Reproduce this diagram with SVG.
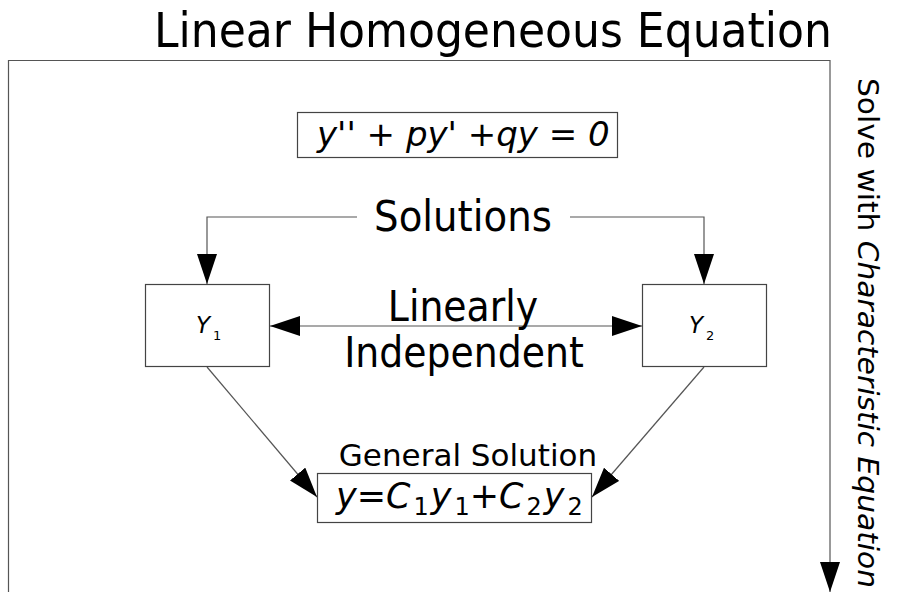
<svg xmlns="http://www.w3.org/2000/svg" width="906" height="592" viewBox="0 0 906 592">
<defs>
<marker id="ah" viewBox="0 0 30 20" refX="30" refY="10" markerWidth="30" markerHeight="20" markerUnits="userSpaceOnUse" orient="auto-start-reverse">
<path d="M0,0 L30,10 L0,20 Z" fill="#000"/>
</marker>
<style>
.t{font-family:"DejaVu Sans","Liberation Sans",sans-serif;fill:#000}
.c{font-family:"DejaVu Sans Condensed","DejaVu Sans",sans-serif;font-stretch:condensed;fill:#000}
.i{font-style:italic}
.box{fill:#fff;stroke:#444;stroke-width:1.2}
.ln{fill:none;stroke:#555;stroke-width:1.2}
</style>
</defs>
<rect width="906" height="592" fill="#fff"/>
<text class="c" x="154" y="47" font-size="48" textLength="678" lengthAdjust="spacingAndGlyphs">Linear Homogeneous Equation</text>
<g id="frame">
<path class="ln" d="M8.5,592 V60.5 H830"/>
</g>
<g id="connectors">
<line class="ln" x1="830" y1="60" x2="830" y2="592" marker-end="url(#ah)"/>
<path class="ln" d="M357,217 H207 V284" marker-end="url(#ah)"/>
<path class="ln" d="M570,217 H704 V284" marker-end="url(#ah)"/>
<line class="ln" x1="270" y1="326" x2="642" y2="326" marker-start="url(#ah)" marker-end="url(#ah)"/>
<line class="ln" x1="207" y1="367" x2="317" y2="497" marker-end="url(#ah)"/>
<line class="ln" x1="704" y1="367" x2="592" y2="497" marker-end="url(#ah)"/>
</g>
<g id="side-label">
<text class="t" font-size="28" transform="translate(858,78) rotate(90)" textLength="510" lengthAdjust="spacingAndGlyphs">Solve with <tspan class="i">Characteristic Equation</tspan></text>
</g>
<g id="equation">
<rect class="box" x="297.5" y="112.5" width="320" height="45"/>
<text class="t i" x="317" y="146" font-size="34">y'' + py' +qy = 0</text>
</g>
<g id="solutions-label">
<text class="c" x="463" y="231" font-size="43" text-anchor="middle">Solutions</text>
</g>
<g id="y1">
<rect class="box" x="145.5" y="284.5" width="124" height="82"/>
<text class="t i" x="196" y="333" font-size="23">Y<tspan font-style="normal" font-size="13" dx="3" dy="7">1</tspan></text>
</g>
<g id="y2">
<rect class="box" x="642.5" y="284.5" width="124" height="82"/>
<text class="t i" x="689" y="333" font-size="23">Y<tspan font-style="normal" font-size="13" dx="3" dy="7">2</tspan></text>
</g>
<g id="independent-label">
<text class="c" x="463" y="321" font-size="42" text-anchor="middle">Linearly</text>
<text class="c" x="464" y="367" font-size="42" text-anchor="middle">Independent</text>
</g>
<g id="general">
<text class="t" x="468" y="466" font-size="31" text-anchor="middle">General Solution</text>
<rect class="box" x="317.5" y="473.5" width="274" height="49"/>
<text class="t i" x="336" y="508" font-size="35">y<tspan font-style="normal">=</tspan>C<tspan font-style="normal" font-size="24" dx="3" dy="7">1</tspan><tspan dx="2" dy="-7">y</tspan><tspan font-style="normal" font-size="24" dx="3" dy="7">1</tspan><tspan font-style="normal" dy="-7">+</tspan>C<tspan font-style="normal" font-size="24" dx="3" dy="7">2</tspan><tspan dx="2" dy="-7">y</tspan><tspan font-style="normal" font-size="24" dx="3" dy="7">2</tspan></text>
</g>
</svg>
